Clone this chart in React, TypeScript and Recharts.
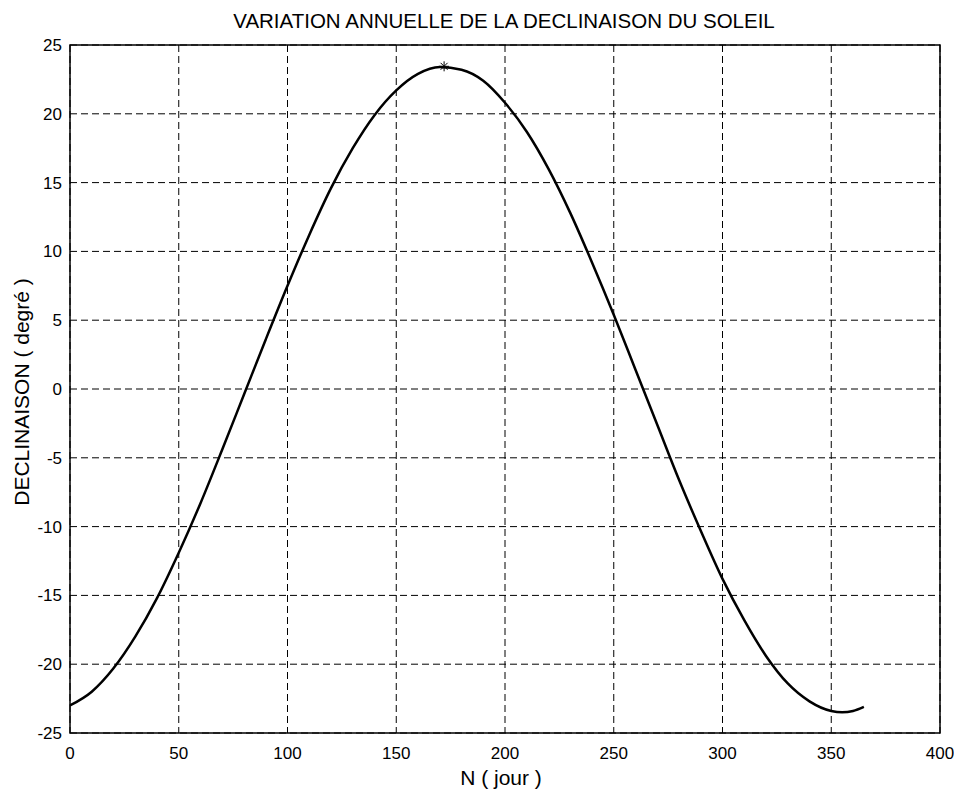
import React from "react"
import { LineChart, Line, XAxis, YAxis, CartesianGrid, ReferenceArea, Scatter } from "recharts"

// day of the year
const days = [0, 10, 20, 30, 40, 50, 60, 70, 80, 90, 100, 110, 120, 130, 140, 150, 160, 170, 180, 190, 200, 210, 220, 230, 240, 250, 260, 270, 280, 290, 300, 310, 320, 330, 340, 350, 355, 360, 365]
// solar declination in degrees
const declination = [-23.0, -22.0, -20.3, -18.0, -15.2, -11.9, -8.3, -4.4, -0.4, 3.6, 7.5, 11.2, 14.6, 17.5, 19.9, 21.7, 22.9, 23.4, 23.2, 22.4, 20.8, 18.7, 16.0, 12.8, 9.2, 5.4, 1.4, -2.6, -6.6, -10.3, -13.8, -16.8, -19.4, -21.4, -22.7, -23.4, -23.5, -23.4, -23.1]

// summer solstice marker
const peakDay = [172]
const peakValue = [23.45]

const xTicks = [0, 50, 100, 150, 200, 250, 300, 350, 400]
const yTicks = [-25, -20, -15, -10, -5, 0, 5, 10, 15, 20, 25]

const data = days.map((n, i) => ({ n, d: declination[i] }))
const peak = peakDay.map((n, i) => ({ n, p: peakValue[i] }))

const FONT = "'Liberation Sans', Arial, Helvetica, sans-serif"

function Asterisk(props: any) {
  const { cx, cy } = props
  const r = 5
  return (
    <g stroke="#000" strokeWidth={1}>
      <line x1={cx - r} y1={cy} x2={cx + r} y2={cy} />
      <line x1={cx} y1={cy - r} x2={cx} y2={cy + r} />
      <line x1={cx - 3.5} y1={cy - 3.5} x2={cx + 3.5} y2={cy + 3.5} />
      <line x1={cx - 3.5} y1={cy + 3.5} x2={cx + 3.5} y2={cy - 3.5} />
    </g>
  )
}

function YTitle() {
  return (
    <text x={21} y={392} transform="rotate(-90 21 392)" textAnchor="middle" dominantBaseline="central" fontSize={21} fontFamily={FONT} fill="#000">
      DECLINAISON ( degré )
    </text>
  )
}

function XTitle() {
  return (
    <text x={501} y={785} textAnchor="middle" fontSize={21} fontFamily={FONT} fill="#000">
      N ( jour )
    </text>
  )
}

export default function App() {
  return (
    <div style={{ position: "absolute", left: 0, top: 0, width: 954, height: 793, background: "#fff", fontFamily: FONT }}>
      <div style={{ position: "absolute", left: 0, width: 1008, top: 11, lineHeight: "20px", textAlign: "center", fontSize: 20.5, color: "#000", whiteSpace: "nowrap" }}>
        VARIATION ANNUELLE DE LA DECLINAISON DU SOLEIL
      </div>
      <LineChart width={954} height={793} data={data} margin={{ top: 45, right: 14, left: 0, bottom: 0 }}>
        <CartesianGrid stroke="#000" strokeDasharray="7 4" strokeWidth={1} horizontalValues={yTicks} verticalValues={xTicks} />
        <XAxis
          dataKey="n"
          type="number"
          domain={[0, 400]}
          ticks={xTicks}
          height={60}
          axisLine={false}
          tickLine={false}
          tickSize={0}
          tickMargin={14}
          tick={{ fill: "#000", fontSize: 17, fontFamily: FONT }}
          label={<XTitle />}
        />
        <YAxis
          type="number"
          domain={[-25, 25]}
          ticks={yTicks}
          width={70}
          axisLine={false}
          tickLine={false}
          tickSize={0}
          tickMargin={8}
          tick={{ fill: "#000", fontSize: 17, fontFamily: FONT }}
          label={<YTitle />}
        />
        <ReferenceArea x1={0} x2={400} y1={-25} y2={25} fill="none" stroke="#000" strokeWidth={1.5} ifOverflow="visible" />
        <Line type="monotone" dataKey="d" stroke="#000" strokeWidth={2.5} dot={false} isAnimationActive={false} />
        <Scatter data={peak} dataKey="p" shape={<Asterisk />} isAnimationActive={false} />
      </LineChart>
    </div>
  )
}
